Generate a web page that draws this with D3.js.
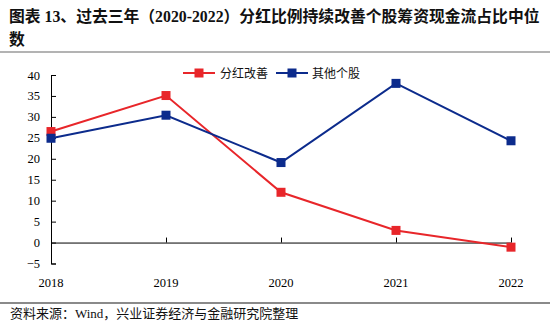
<!DOCTYPE html>
<html>
<head>
<meta charset="utf-8">
<script src="https://cdn.jsdelivr.net/npm/d3@7"></script>
<style>
  html, body { margin: 0; padding: 0; background: #fff; }
  svg { display: block; }
</style>
</head>
<body>
<div id="chart"></div>
<script>
// Chart data
const years = ["2018", "2019", "2020", "2021", "2022"];
const dividendUp = [26.5, 35.1, 12.0, 2.9, -1.1];   // 分红改善
const others = [24.9, 30.4, 19.1, 38.0, 24.3];      // 其他个股
const yTicks = [-5, 0, 5, 10, 15, 20, 25, 30, 35, 40];
const seriesNames = ["分红改善", "其他个股"];
const seriesColors = ["#e8262a", "#0c2b8c"];

const W = 550, H = 324;
const svg = d3.select("#chart").append("svg").attr("width", W).attr("height", H);

const serif = "'Liberation Serif', 'Times New Roman', serif";
// Latin glyphs in a Times-like face, CJK falls back to Noto Sans CJK
const mixed = "'Liberation Serif', 'Noto Sans CJK SC', serif";
const cjk = "'Noto Sans CJK SC', sans-serif";

// Title
svg.append("text").attr("x", 9).attr("y", 22)
  .attr("font-family", mixed).attr("font-weight", "bold").attr("font-size", 15.8)
  .attr("fill", "#111")
  .text("图表 13、过去三年（2020-2022）分红比例持续改善个股筹资现金流占比中位");
svg.append("text").attr("x", 9).attr("y", 45)
  .attr("font-family", mixed).attr("font-weight", "bold").attr("font-size", 15.8)
  .attr("fill", "#111").text("数");

// Rules under title and above source
svg.append("line").attr("x1", 0).attr("x2", W).attr("y1", 52).attr("y2", 52)
  .attr("stroke", "#9a9a9a").attr("stroke-width", 1.5);
svg.append("line").attr("x1", 0).attr("x2", W).attr("y1", 303).attr("y2", 303)
  .attr("stroke", "#8a8a8a").attr("stroke-width", 2);

// Source
svg.append("text").attr("x", 10).attr("y", 318)
  .attr("font-family", mixed).attr("font-size", 13).attr("fill", "#111")
  .text("资料来源：Wind，兴业证券经济与金融研究院整理");

// Scales
const x = d3.scalePoint().domain(years).range([51, 511]);
const y = d3.scaleLinear().domain([-5, 40]).range([263.5, 75]);

// Y axis (ticks point inward)
const yAxis = svg.append("g").attr("transform", "translate(51,0)")
  .call(d3.axisRight(y).tickValues(yTicks).tickSize(5).tickFormat(d3.format("d")));
yAxis.select(".domain").attr("stroke", "#000");
yAxis.selectAll(".tick line").attr("stroke", "#000");
yAxis.selectAll(".tick text").attr("x", -11).attr("text-anchor", "end")
  .attr("font-family", serif).attr("font-size", 12.5).attr("fill", "#000");

// X axis along zero line, ticks pointing up
const xAxis = svg.append("g").attr("transform", `translate(0,${y(0)})`)
  .call(d3.axisTop(x).tickSize(5).tickSizeOuter(0).tickFormat(""));
xAxis.select(".domain").attr("stroke", "#000");
xAxis.selectAll(".tick line").attr("stroke", "#000");

// Category labels below plot
svg.append("g").selectAll("text").data(years).join("text")
  .attr("x", d => x(d)).attr("y", 287)
  .attr("text-anchor", "middle")
  .attr("font-family", serif).attr("font-size", 12.5).attr("fill", "#000")
  .text(d => d);

// Series lines and markers
const series = [dividendUp, others];
const line = d3.line().x((d, i) => x(years[i])).y(d => y(d));
series.forEach((vals, k) => {
  svg.append("path").datum(vals).attr("d", line)
    .attr("fill", "none").attr("stroke", seriesColors[k]).attr("stroke-width", 2);
  svg.append("g").selectAll("rect").data(vals).join("rect")
    .attr("x", (d, i) => x(years[i]) - 4.5).attr("y", d => y(d) - 4.5)
    .attr("width", 9).attr("height", 9).attr("fill", seriesColors[k]);
});

// Legend
const legend = [{x0: 183, tx: 220}, {x0: 276, tx: 312}];
legend.forEach((p, k) => {
  const g = svg.append("g");
  g.append("line").attr("x1", p.x0).attr("x2", p.x0 + 32).attr("y1", 73).attr("y2", 73)
    .attr("stroke", seriesColors[k]).attr("stroke-width", 2);
  g.append("rect").attr("x", p.x0 + 16 - 4.5).attr("y", 73 - 4.5)
    .attr("width", 9).attr("height", 9).attr("fill", seriesColors[k]);
  g.append("text").attr("x", p.tx).attr("y", 77.5)
    .attr("font-family", cjk).attr("font-size", 12).attr("fill", "#111")
    .text(seriesNames[k]);
});
</script>
</body>
</html>
